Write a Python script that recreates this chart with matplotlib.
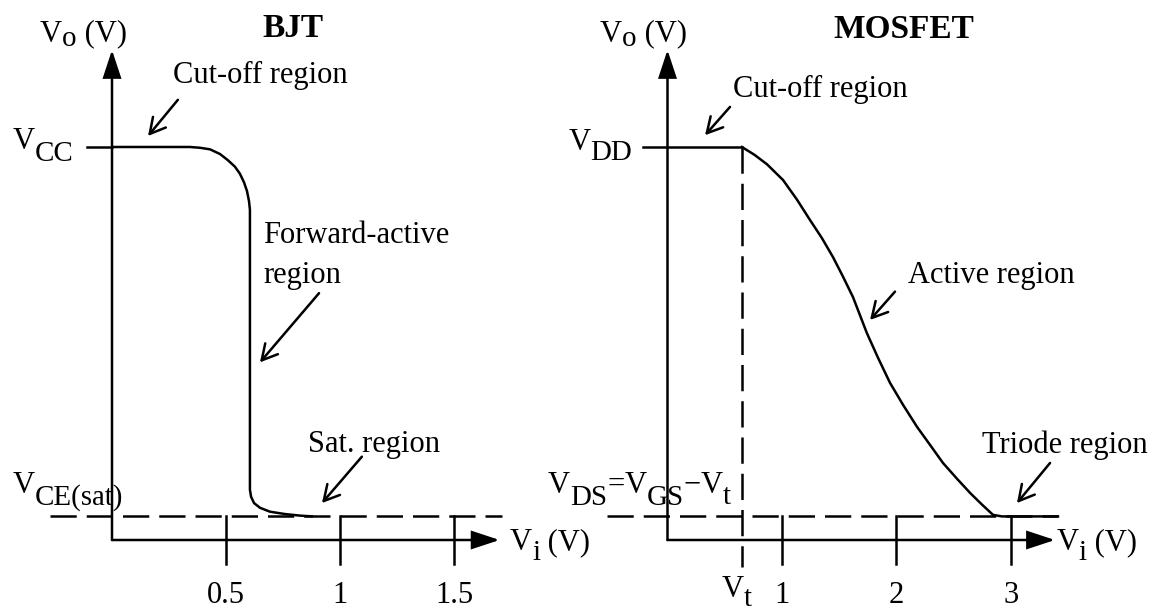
import matplotlib
matplotlib.use('Agg')
import matplotlib.pyplot as plt
from matplotlib.transforms import offset_copy

plt.rcParams['font.family'] = ['Liberation Serif', 'DejaVu Serif']
FS = 22

# ---- BJT transfer curve (Vi in V, Vo in V with VCC = 5) ----
VCC = 5.0
VCE_SAT = 0.3
bjt_vi = [0.0, 0.342, 0.386, 0.430, 0.474, 0.509, 0.539, 0.561, 0.579, 0.592, 0.601,
          0.605, 0.605, 0.605, 0.610, 0.623, 0.649, 0.693, 0.759, 0.825, 0.882]
bjt_vo = [5.0, 5.0, 4.99, 4.97, 4.91, 4.83, 4.75, 4.66, 4.55, 4.44, 4.31,
          4.20, 4.11, 0.64, 0.55, 0.47, 0.41, 0.36, 0.33, 0.31, 0.30]
bjt_ticks = [0.5, 1.0, 1.5]
bjt_tick_labels = ['0.5', '1', '1.5']

# ---- MOSFET transfer curve (VDD = 5) ----
VDD = 5.0
VT = 0.65
VDS_EDGE = 0.3
mos_vi = [0.65, 0.76, 0.869, 1.009, 1.131, 1.245, 1.349, 1.445, 1.533, 1.620, 1.681, 1.742,
          1.838, 1.943, 2.057, 2.179, 2.293, 2.406, 2.528, 2.642, 2.747, 2.843, 2.921, 3.41]
mos_vo = [5.0, 4.90, 4.78, 4.58, 4.33, 4.07, 3.84, 3.60, 3.35, 3.09, 2.86, 2.63,
          2.32, 2.00, 1.72, 1.44, 1.21, 0.98, 0.78, 0.60, 0.45, 0.32, 0.30, 0.30]
mos_ticks = [1, 2, 3]
mos_tick_labels = ['1', '2', '3']

LW = 1.8
SUB = 0.95


def axis_arrow(ax, x0, y0, x1, y1):
    ax.annotate('', xy=(x1, y1), xytext=(x0, y0),
                arrowprops=dict(arrowstyle='-|>,head_length=0.85,head_width=0.28',
                                mutation_scale=20, lw=LW, color='black',
                                shrinkA=0, shrinkB=0, joinstyle='miter'))


def note_arrow(ax, start, end):
    ax.annotate('', xy=end, xytext=start,
                arrowprops=dict(arrowstyle='->,head_length=0.55,head_width=0.3',
                                mutation_scale=20, lw=LW, color='black',
                                shrinkA=0, shrinkB=0))


def rich_text(ax, x, y, parts, size=FS, ha='left', weight='normal'):
    # parts: (text, drop in px, scale)
    renderer = ax.figure.canvas.get_renderer()
    items = []
    dx = 0.0
    for s, drop, scale in parts:
        t = ax.text(x, y, s, fontsize=size * scale, fontweight=weight,
                    va='baseline', ha='left')
        w = t.get_window_extent(renderer).width
        items.append((t, dx, drop))
        dx += w
    shift = {'left': 0.0, 'center': -dx / 2, 'right': -dx}[ha]
    for t, off, drop in items:
        t.set_transform(offset_copy(ax.transData, fig=ax.figure,
                                    x=off + shift, y=-drop, units='dots'))


fig = plt.figure(figsize=(11.53, 6.12), dpi=100)
ax1 = fig.add_axes([0, 0, 576 / 1153, 1])
ax2 = fig.add_axes([576 / 1153, 0, 577 / 1153, 1])
ax1.set_xlim(-0.4912, 2.0351)
ax2.set_xlim(-0.7991, 4.2402)
for ax in (ax1, ax2):
    ax.set_ylim(-0.916, 6.870)
    ax.axis('off')

# ================= BJT =================
ax = ax1
ax.plot(bjt_vi, bjt_vo, color='black', lw=LW, solid_capstyle='butt')
ax.plot([-0.11, 0], [VCC, VCC], color='black', lw=LW)
ax.plot([-0.272, 1.71], [VCE_SAT, VCE_SAT], color='black', lw=LW,
        linestyle=(0, (10.5, 4)))
axis_arrow(ax, 0, 0, 0, 6.234)
axis_arrow(ax, 0, 0, 1.70, 0)
for t, lab in zip(bjt_ticks, bjt_tick_labels):
    ax.plot([t, t], [VCE_SAT, -0.31], color='black', lw=LW)
    ax.text(t, -0.80, lab, fontsize=FS, ha='center', va='baseline')

rich_text(ax, -0.316, 6.34, [('V', 0, 1), ('o', 4, SUB), (' (V)', 0, 1)])
ax.text(0.658, 6.40, 'BJT', fontsize=24, fontweight='bold', va='baseline')
ax.text(0.268, 5.81, 'Cut-off region', fontsize=FS, va='baseline')
note_arrow(ax, (0.289, 5.60), (0.158, 5.14))
rich_text(ax, -0.17, 4.97, [('V', 0, 1), ('CC', 12, SUB)], ha='right')
ax.text(0.662, 3.78, 'Forward-active', fontsize=FS, va='baseline')
ax.text(0.662, 3.27, 'region', fontsize=FS, va='baseline')
note_arrow(ax, (0.908, 3.14), (0.649, 2.26))
ax.text(0.86, 1.12, 'Sat. region', fontsize=FS, va='baseline')
note_arrow(ax, (1.096, 1.06), (0.921, 0.47))
rich_text(ax, -0.434, 0.60, [('V', 0, 1), ('CE(sat)', 12, SUB)])
rich_text(ax, 1.746, -0.127, [('V', 0, 1), ('i', 10, SUB), (' (V)', 0, 1)])

# ================= MOSFET =================
ax = ax2
ax.plot([-0.214, VT], [VDD, VDD], color='black', lw=LW)
ax.plot(mos_vi, mos_vo, color='black', lw=LW)
ax.plot([-0.528, 3.41], [VDS_EDGE, VDS_EDGE], color='black', lw=LW,
        linestyle=(0, (10.5, 4)))
ax.plot([VT, VT], [VDD, -0.34], color='black', lw=LW, linestyle=(0, (10.5, 4)))
axis_arrow(ax, 0, 0, 0, 6.234)
axis_arrow(ax, 0, 0, 3.384, 0)
for t, lab in zip(mos_ticks, mos_tick_labels):
    ax.plot([t, t], [VDS_EDGE, -0.31], color='black', lw=LW)
    ax.text(t, -0.80, lab, fontsize=FS, ha='center', va='baseline')

rich_text(ax, -0.590, 6.34, [('V', 0, 1), ('o', 4, SUB), (' (V)', 0, 1)])
ax.text(1.445, 6.39, 'MOSFET', fontsize=24, fontweight='bold', va='baseline')
ax.text(0.572, 5.64, 'Cut-off region', fontsize=FS, va='baseline')
note_arrow(ax, (0.546, 5.51), (0.328, 5.15))
rich_text(ax, -0.31, 4.96, [('V', 0, 1), ('DD', 10, SUB)], ha='right')
ax.text(2.10, 3.27, 'Active region', fontsize=FS, va='baseline')
note_arrow(ax, (1.987, 3.16), (1.769, 2.80))
ax.text(2.747, 1.107, 'Triode region', fontsize=FS, va='baseline')
note_arrow(ax, (3.341, 0.98), (3.052, 0.47))
rich_text(ax, -1.044, 0.60, [('V', 0, 1), ('DS', 12, SUB), ('=', 0, 1), ('V', 0, 1),
                             ('GS', 12, SUB), ('\u2212', 0, 1), ('V', 0, 1), ('t', 11, SUB)])
rich_text(ax, 0.607, -0.725, [('V', 0, 1), ('t', 9, SUB)], ha='center')
rich_text(ax, 3.40, -0.127, [('V', 0, 1), ('i', 10, SUB), (' (V)', 0, 1)])

fig.savefig('out.png', dpi=100)
